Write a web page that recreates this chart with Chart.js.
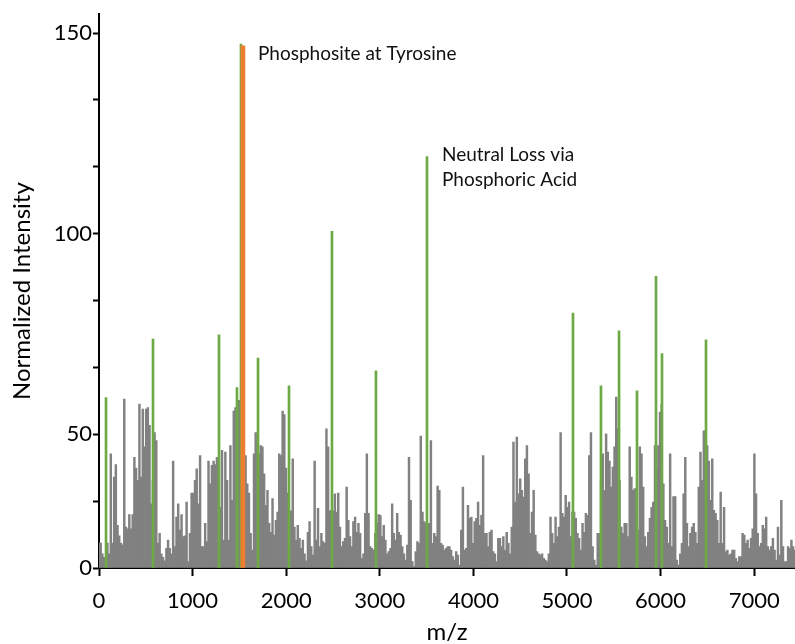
<!DOCTYPE html>
<html>
<head>
<meta charset="utf-8">
<script src="https://cdn.jsdelivr.net/npm/chart.js@4/dist/chart.umd.min.js"></script>
<style>
  html, body { margin: 0; padding: 0; background: #ffffff; overflow: hidden; }
  canvas { display: block; }
</style>
</head>
<body>
<canvas id="c" width="795" height="644" style="width:795px;height:644px"></canvas>
<script>
// ---------- DATA ----------
// Gray spectrum: intensities in consecutive m/z bins
const binStartMz = 0;
const binWidthMz = 18;
const grayIntensity = [
  7,7,4,3,2,7,4,32,7,25.5,
  29,12,9,7,6.5,47.4,11.5,11,15,11,
  15,31,28,24.6,46,25.5,44.6,34,44.6,45,
  40,18,24.6,38,35.7,7,9.7,4,3,2,
  5.5,7.8,5.5,4,30,6,14.3,18,10.6,15,
  8.8,9,18.5,1.8,9.7,21,21,24.6,27.8,18,
  31.5,6,6,12.5,7.4,30,23.6,28.8,30,29,
  31,21,17,33,7.8,32.5,24.6,7.8,34.3,19,
  44,45,38.5,47,
  44,40,30,31.5,23.6,21,9.7,5,32,38,
  35,32,34.3,34,26.4,17.6,21.8,12.5,10,19.5,
  9.2,13.4,15.7,32,31.5,44,43,28,21,16,
  16,30.6,11.5,7.8,12,8.3,5.5,7.8,4,2,
  10,13,6,3.6,30,7.8,16.7,6,9.7,7.4,
  6.9,39,34,16,16.2,16,20.8,15.7,21,11.5,
  6,7.4,8.3,22.7,13.4,8.8,6,13,14.3,10,
  12.5,9.7,2.7,4,15.3,32,15.3,6,5.5,5,
  9.7,12.5,15,
  14.8,8.8,12,7.8,4,4.6,5.5,18,9.7,7.8,
  15.3,10,9.2,6,4,2.2,6.4,31,19,1.8,
  0.4,4.6,7.4,6.9,37,15.7,13,12.5,12.5,12.5,
  35.7,6.9,9.7,8.8,23,21.8,6.9,6.4,5,5.5,
  6,6,5,3.2,2.2,4.6,3.6,0.8,10.6,22.7,
  5,5.5,17.6,13.9,14.3,6.9,13,13.9,18.5,12,
  14.8,31.5,9.7,9.7,6,10,10.6,4.6,4,1.8,
  8.3,8.3,6,8.8,5,10,6.9,4,11.5,35.3,
  18.5,36.7,20.8,
  25,21.8,19.9,30.6,34.3,26.4,9.7,15.7,21.8,9.2,
  4.6,4,3.6,4,2.7,2.2,1.8,4,14.3,9.7,
  6.9,14.3,8.8,11.5,38,15.3,14.3,20.4,17,18.5,
  8.8,15.7,15.7,13.9,9.7,8.3,5,12.5,10,15.3,
  14.8,31.5,38,6,2.2,0.8,9.7,9.7,24.6,32,
  21.8,37.6,32.5,30,22.7,28.3,34,47.9,39,24.6,
  11.5,9.7,12.5,12.5,8.8,34,25.5,21.8,22.3,14.3,
  10.6,34,32,22.7,8.8,6,10,13.9,17,18.5,34.3,
  28,34.3,43.7,46,23.6,13.4,11.5,6.9,32,6,
  20,20,2.2,0.8,4,6.9,20.8,31,12.5,6,
  9.7,11.5,12.5,10,6.9,22.7,32.5,24.6,38.5,34.3,
  34.3,30,19,30.6,16.2,15.3,13.4,6.9,21.3,6.9,
  17,4.6,5,3.6,4,5,5,2.7,1.8,3.2,
  3.2,9.7,9.2,6.9,7.8,5.5,8.3,11,32,20.8,
  9.7,6,6.9,12,11,14.3,6,5,6,8.3,
  5,2.2,11.5,3.6,19,6,1.8,1.8,6,5.5,7.8,6,5
];

// Highlighted (green) peaks
const greenMz = [75, 577, 1282, 1474, 1517, 1699, 2030, 2489, 2959, 3504, 5064, 5363, 5556, 5748, 5951, 6015, 6485];
const greenIntensity = [47.8, 64.2, 65.4, 50.6, 146.9, 58.9, 51.1, 94.4, 55.3, 115.4, 71.5, 51.1, 66.5, 49.7, 81.8, 60.1, 64.0];

// Phosphosite peak (orange)
const orangeMz = [1538];
const orangeIntensity = [146.4];

// Axis ticks
const xTickValues = [0, 1000, 2000, 3000, 4000, 5000, 6000, 7000];
const xTickLabels = ['0', '1000', '2000', '3000', '4000', '5000', '6000', '7000'];
const yTickValues = [0, 18.75, 37.5, 56.25, 75, 93.75, 112.5, 131.25, 150];
const yTickLabels = ['0', '', '50', '', '', '100', '', '', '150'];

// Annotations
const annotationLines = [['Phosphosite at Tyrosine'], ['Neutral Loss via', 'Phosphoric Acid']];
const annotationMz = [1538, 3504];
const annotationIntensity = [146.4, 115.4];

// ---------- STYLE / LAYOUT ----------
const FONT = 'Lato, "Open Sans", "DejaVu Sans", sans-serif';
const annotationOffsets = [{dx: 15, dy: 14}, {dx: 15, dy: 5}];

const grayPoints = grayIntensity.map((v, i) => ({x: binStartMz + i * binWidthMz, y: v}));
const greenPoints = greenMz.map((m, i) => ({x: m, y: greenIntensity[i]}));
const orangePoints = orangeMz.map((m, i) => ({x: m, y: orangeIntensity[i]}));

const annotationPlugin = {
  id: 'peakLabels',
  afterDatasetsDraw(chart) {
    const ctx = chart.ctx;
    const xs = chart.scales.x, ys = chart.scales.y;
    ctx.save();
    ctx.fillStyle = '#111111';
    ctx.font = '19px ' + FONT;
    ctx.textAlign = 'left';
    ctx.textBaseline = 'alphabetic';
    annotationLines.forEach((lines, k) => {
      const x = xs.getPixelForValue(annotationMz[k]) + annotationOffsets[k].dx;
      const y0 = ys.getPixelForValue(annotationIntensity[k]) + annotationOffsets[k].dy;
      lines.forEach((t, j) => ctx.fillText(t, x, y0 + j * 25));
    });
    ctx.restore();
  }
};

new Chart(document.getElementById('c'), {
  type: 'bar',
  data: {
    datasets: [
      { label: 'Phosphosite', data: orangePoints, backgroundColor: '#ED7D31', barThickness: 4, grouped: false, order: 0 },
      { label: 'Matched', data: greenPoints, backgroundColor: '#6DAA45', barThickness: 2, grouped: false, order: 1 },
      { label: 'Spectrum', data: grayPoints, backgroundColor: '#818181', barThickness: 1.8, grouped: false, order: 2 }
    ]
  },
  options: {
    responsive: false,
    maintainAspectRatio: false,
    animation: false,
    devicePixelRatio: 1,
    layout: { padding: { top: 12, left: 0, right: 0, bottom: 0 } },
    plugins: { legend: { display: false }, tooltip: { enabled: false } },
    scales: {
      x: {
        type: 'linear',
        min: 0,
        max: 7436,
        offset: false,
        afterBuildTicks(scale) { scale.ticks = xTickValues.map(v => ({value: v})); },
        afterFit(scale) { scale.height = 76; },
        grid: { display: true, offset: false, drawOnChartArea: false, drawTicks: true, tickLength: 8, tickWidth: 2, tickColor: '#000' },
        border: { display: true, color: '#000', width: 2 },
        ticks: {
          color: '#000', font: { family: FONT, size: 22 }, padding: 12, maxRotation: 0, autoSkip: false,
          callback(value, index) { return xTickLabels[index]; }
        },
        title: { display: true, text: 'm/z', color: '#000', font: { family: FONT, size: 24, lineHeight: 1 }, padding: 0 }
      },
      y: {
        type: 'linear',
        min: 0,
        max: 155.3,
        afterBuildTicks(scale) { scale.ticks = yTickValues.map(v => ({value: v})); },
        afterFit(scale) { scale.width = 99; },
        grid: { display: true, drawOnChartArea: false, drawTicks: true, tickLength: 6, tickWidth: 2, tickColor: '#000' },
        border: { display: true, color: '#000', width: 2 },
        ticks: {
          color: '#000', font: { family: FONT, size: 22 }, padding: 1, autoSkip: false,
          callback(value, index) { return yTickLabels[index]; }
        },
        title: { display: true, text: 'Normalized Intensity', color: '#000', font: { family: FONT, size: 24, lineHeight: 1.2 }, padding: { top: 8, bottom: 0 } }
      }
    }
  },
  plugins: [annotationPlugin]
});
</script>
</body>
</html>
